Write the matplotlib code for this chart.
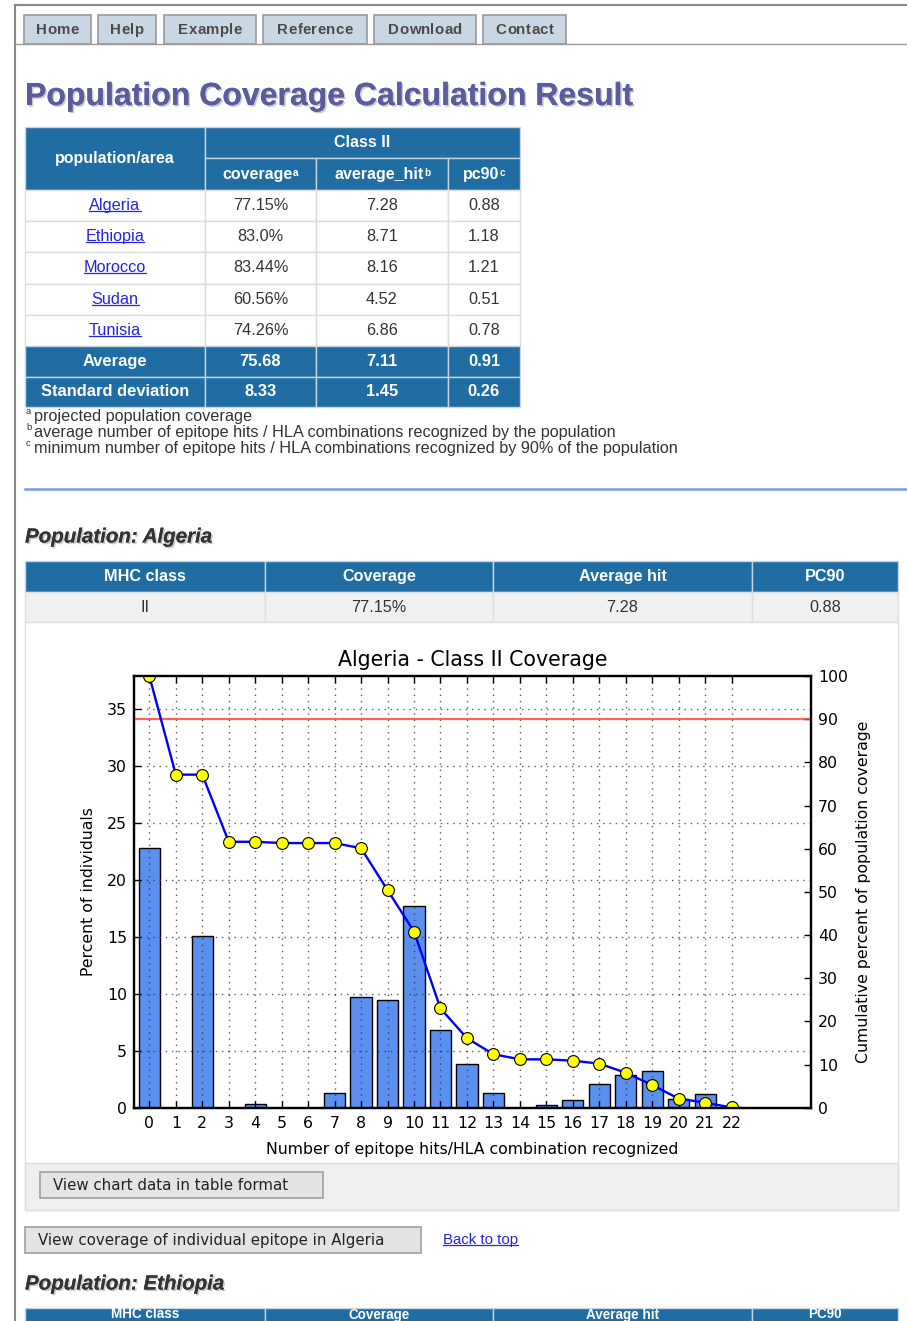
import matplotlib
matplotlib.use("Agg")
import matplotlib.pyplot as plt
from matplotlib.patches import Rectangle
import matplotlib.patheffects as pe

# ---------------- data ----------------
hits = list(range(23))
pct_individuals = [22.8, 0, 15.1, 0, 0.3, 0, 0, 1.3, 9.75, 9.46, 17.7, 6.8, 3.87,
                   1.28, 0, 0.2, 0.67, 2.07, 2.83, 3.26, 0.79, 1.16, 0.05]
cum_coverage = [100, 77.15, 77.15, 61.6, 61.6, 61.3, 61.3, 61.3, 60.1, 50.4, 40.8,
                23.0, 16.1, 12.4, 11.2, 11.2, 10.9, 10.2, 8.1, 5.25, 2.1, 1.16, 0.05]
pc90_line = 90

nav_tabs = ["Home", "Help", "Example", "Reference", "Download", "Contact"]
areas = ["Algeria", "Ethiopia", "Morocco", "Sudan", "Tunisia"]
coverage = ["77.15%", "83.0%", "83.44%", "60.56%", "74.26%"]
average_hit = ["7.28", "8.71", "8.16", "4.52", "6.86"]
pc90 = ["0.88", "1.18", "1.21", "0.51", "0.78"]
row_avg = ["Average", "75.68", "7.11", "0.91"]
row_sd = ["Standard deviation", "8.33", "1.45", "0.26"]
footnotes = [("a", "projected population coverage"),
             ("b", "average number of epitope hits / HLA combinations recognized by the population"),
             ("c", "minimum number of epitope hits / HLA combinations recognized by 90% of the population")]
detail_cols = ["MHC class", "Coverage", "Average hit", "PC90"]
detail_row = ["II", "77.15%", "7.28", "0.88"]

# ---------------- page ----------------
W, H = 907, 1321
BLUE = "#1f6da3"
TXT = "#333333"
LINK = "#2424e0"
WEB = "Liberation Sans"
BTN = "DejaVu Sans"

fig = plt.figure(figsize=(W / 100, H / 100), dpi=100)
page = fig.add_axes([0, 0, 1, 1])
page.set_xlim(0, W)
page.set_ylim(H, 0)
page.axis("off")
renderer = fig.canvas.get_renderer()


def box(x0, x1, y0, y1, fc, ec="#dddddd", lw=1.0):
    page.add_patch(Rectangle((x0, y0), x1 - x0, y1 - y0, fc=fc, ec=ec, lw=lw))


def txt(x, y, s, px, color=TXT, weight="normal", ha="center", style="normal", family=WEB, **kw):
    return page.text(x, y, s, fontsize=px * 0.72, color=color, weight=weight, ha=ha,
                     va="center", family=family, style=style, **kw)


def spaced(xc, y, s, px, gap, **kw):
    # letter-spaced word, centred on xc
    widths = []
    for ch in s:
        t = txt(0, y, ch, px, ha="left", **kw)
        widths.append(t.get_window_extent(renderer).width)
        t.remove()
    total = sum(widths) + gap * (len(s) - 1)
    x = xc - total / 2
    for ch, w in zip(s, widths):
        txt(x, y, ch, px, ha="left", **kw)
        x += w + gap


def link(x, y, s, px, ha="center"):
    t = txt(x, y, s, px, color=LINK, ha=ha)
    bb = t.get_window_extent(renderer)
    yy = H - bb.y0 - 2.5
    page.plot([bb.x0, bb.x1], [yy, yy], color=LINK, lw=0.9)
    return t


def sup(t, s, px, color):
    page.annotate(s, xy=(1, 1), xycoords=t, xytext=(0.5, -1), textcoords="offset pixels",
                  fontsize=px * 0.72, color=color, weight=t.get_weight(), family=WEB,
                  ha="left", va="top")


shadow = [pe.withSimplePatchShadow(offset=(1.2, -1.2), shadow_rgbFace="#999999", alpha=0.5),
          pe.Normal()]

# frame
page.plot([15, W], [5, 5], color="#888888", lw=1.5)
page.plot([15, 15], [5, H], color="#888888", lw=1.5)

# nav tabs
tab_edges = [(24, 91), (98, 156), (164, 256), (263, 367), (374, 476), (483, 566)]
for name, (a, b) in zip(nav_tabs, tab_edges):
    box(a, b, 15, 44, "#c9d7e5", ec="#9a9a9a", lw=1.2)
    spaced((a + b) / 2, 30, name, 15, 0.3, color="#4a4a4a", weight="bold")
page.plot([15, W], [44, 44], color="#9a9a9a", lw=1.0)

# title
txt(25, 97, "Population Coverage Calculation Result", 32, color="#5b5b9d",
    weight="bold", ha="left", path_effects=shadow)

# summary table
cx = [25, 205, 316, 448, 520]
ry = [127, 158, 190, 221, 252, 284, 315, 346, 377, 407]
box(cx[0], cx[1], ry[0], ry[2], BLUE, ec="#c8d4e0")
box(cx[1], cx[4], ry[0], ry[1], BLUE, ec="#c8d4e0")
for j in range(1, 4):
    box(cx[j], cx[j + 1], ry[1], ry[2], BLUE, ec="#c8d4e0")
txt((cx[0] + cx[1]) / 2, (ry[0] + ry[2]) / 2, "population/area", 16, color="white", weight="bold")
txt((cx[1] + cx[4]) / 2, (ry[0] + ry[1]) / 2, "Class II", 16, color="white", weight="bold")
for j, (lab, s) in enumerate([("coverage", "a"), ("average_hit", "b"), ("pc90", "c")]):
    t = txt((cx[j + 1] + cx[j + 2]) / 2 - 3, (ry[1] + ry[2]) / 2, lab, 16, color="white", weight="bold")
    sup(t, s, 10, "white")

for i, area in enumerate(areas):
    y0, y1 = ry[i + 2], ry[i + 3]
    for j in range(4):
        box(cx[j], cx[j + 1], y0, y1, "white")
    yc = (y0 + y1) / 2
    link((cx[0] + cx[1]) / 2, yc, area, 16.2)
    txt((cx[1] + cx[2]) / 2, yc, coverage[i], 16.2)
    txt((cx[2] + cx[3]) / 2, yc, average_hit[i], 16.2)
    txt((cx[3] + cx[4]) / 2, yc, pc90[i], 16.2)

for k, row in enumerate([row_avg, row_sd]):
    y0, y1 = ry[7 + k], ry[8 + k]
    for j in range(4):
        box(cx[j], cx[j + 1], y0, y1, BLUE, ec="#c8d4e0")
        txt((cx[j] + cx[j + 1]) / 2, (y0 + y1) / 2, row[j], 16.5, color="white", weight="bold")

for k, (s, line) in enumerate(footnotes):
    y = 416 + k * 16.5
    txt(26, y - 5, s, 9.5, ha="left")
    txt(34, y, line, 16.2, ha="left")

page.plot([25, W], [489, 489], color="#6f9be8", lw=1.8)

txt(25, 537, "Population: Algeria", 20.5, color=TXT, weight="bold", style="italic",
    ha="left", path_effects=shadow)

# detail table
dx = [25, 265, 493, 752, 898]
for j in range(4):
    box(dx[j], dx[j + 1], 561, 592, BLUE, ec="#c8d4e0")
    txt((dx[j] + dx[j + 1]) / 2, 576.5, detail_cols[j], 16.2, color="white", weight="bold")
    box(dx[j], dx[j + 1], 592, 622, "#f0f0f0")
    txt((dx[j] + dx[j + 1]) / 2, 607, detail_row[j], 16.2)

# chart panel
box(25, 898, 622, 1210, "white", ec="#dddddd")
box(25, 898, 1163, 1210, "#efefef", ec="#dddddd")
box(40, 323, 1172, 1198, "#e4e4e4", ec="#a0a0a0", lw=1.2)
txt(53, 1186, "View chart data in table format", 15, color="#222222", ha="left", family=BTN)

box(25, 421, 1227, 1253, "#e4e4e4", ec="#a0a0a0", lw=1.2)
txt(38, 1241, "View coverage of individual epitope in Algeria", 15, color="#222222",
    ha="left", family=BTN)
link(443, 1240, "Back to top", 15, ha="left")

txt(25, 1284, "Population: Ethiopia", 20.5, color=TXT, weight="bold", style="italic",
    ha="left", path_effects=shadow)
for j in range(4):
    box(dx[j], dx[j + 1], 1308, 1345, BLUE, ec="#c8d4e0")
    txt((dx[j] + dx[j + 1]) / 2, 1314.5, detail_cols[j], 13.5, color="white", weight="bold")

# ---------------- chart ----------------
ax = fig.add_axes([134 / W, 1 - 1107.7 / H, 677 / W, 431.7 / H])
ax.bar(hits, pct_individuals, width=0.8, color="#5b8ff0", edgecolor="black", linewidth=1.0)
ax.set_xlim(-0.58, 25)
ax.set_ylim(0, 37.9)
ax.set_xticks(hits)
ax.set_yticks(range(0, 36, 5))
ax.grid(True, color="#333333", linestyle=(0, (1, 3.5)), linewidth=1.0, alpha=0.8)
ax.set_axisbelow(False)
ax.tick_params(direction="in", top=True, length=5, width=1, labelsize=11.3, pad=5)
ax.tick_params(axis="x", pad=6)
ax.set_xlabel("Number of epitope hits/HLA combination recognized", fontsize=11.3, labelpad=8)
ax.set_ylabel("Percent of individuals", fontsize=11.3, labelpad=8)
ax.set_title("Algeria - Class II Coverage", fontsize=14.8, pad=7)

ax2 = ax.twinx()
ax2.axhline(pc90_line, color="#ff4545", lw=1.6, alpha=0.85)
ax2.plot(hits, cum_coverage, "-o", color="blue", lw=1.7, ms=8.5,
         mfc="yellow", mec="black", mew=0.8)
ax2.set_ylim(0, 100)
ax2.set_yticks(range(0, 101, 10))
ax2.tick_params(direction="in", length=5, width=1, labelsize=11.3, pad=5)
ax2.set_ylabel("Cumulative percent of population coverage", fontsize=11.3, labelpad=6)
for a in (ax, ax2):
    for sp in a.spines.values():
        sp.set_linewidth(1.6)
        sp.set_color("black")

fig.savefig("out.png", dpi=100)
